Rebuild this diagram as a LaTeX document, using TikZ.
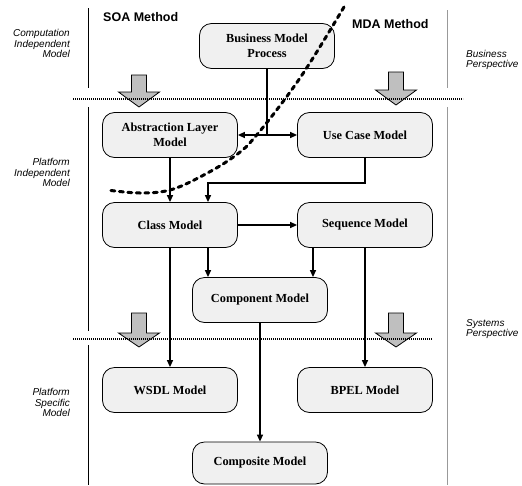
\documentclass[tikz,border=0pt]{standalone}
\usepackage{fontspec}
\setmainfont{Liberation Serif}
\newfontfamily\arialf{Liberation Sans}
\usetikzlibrary{arrows.meta}
\tikzset{
  model/.style={draw=black, line width=0.8pt, fill=black!6, rounded corners=12pt,
    minimum width=135pt, minimum height=45pt, inner sep=2pt, align=center,
    font=\fontsize{12.3pt}{14.5pt}\selectfont\bfseries},
  conn/.style={line width=1.4pt, -{Triangle[length=7pt,width=6pt]}},
  plainconn/.style={line width=1.4pt},
  sidelabel/.style={inner sep=0pt, font=\arialf\itshape\fontsize{10pt}{10.5pt}\selectfont},
  header/.style={inner sep=0pt, font=\arialf\bfseries\fontsize{12.5pt}{14pt}\selectfont},
  blockarrow/.style={draw=black, line width=0.8pt, fill=black!25},
  boundary/.style={line width=1.6pt, dash pattern=on 1.2pt off 0.8pt},
  perspline/.style={line width=0.9pt, draw=black!40},
  methodline/.style={line width=1pt, draw=black},
  split/.style={line width=3pt, dash pattern=on 4pt off 4.5pt, line cap=round}
}
\newcommand\blockarr[4]{%
  \filldraw[blockarrow] ({#1-7.5},#2) -- ({#1+7.5},#2) -- ({#1+7.5},#3) -- ({#1+20.5},#3)
    -- (#1,#4) -- ({#1-20.5},#3) -- ({#1-7.5},#3) -- cycle;}
\begin{document}
\begin{tikzpicture}[x=1pt,y=-1pt]
\useasboundingbox (0,0) rectangle (522,485);

% separator lines
\draw[methodline] (88,8) -- (88,88);
\draw[methodline] (88,107) -- (88,331);
\draw[methodline] (88,345) -- (88,485);
\draw[perspline] (447,10) -- (447,88);
\draw[perspline] (447,107) -- (447,485);

% headers
\node[header, anchor=west] (soa) at (103,17.5) {SOA Method};
\node[header, anchor=west] (mda) at (352,24) {MDA Method};

% side labels
\node[sidelabel, anchor=east, align=right] (cim) at (70,43.5) {Computation\\Independent\\Model};
\node[sidelabel, anchor=east, align=right] (pim) at (70,172.5) {Platform\\Independent\\Model};
\node[sidelabel, anchor=east, align=right] (psm) at (70,402.5) {Platform\\Specific\\Model};
\node[sidelabel, anchor=west, align=left] (bp) at (466,60) {Business\\Perspective};
\node[sidelabel, anchor=west, align=left] (sp) at (466,329) {Systems\\Perspective};

% block arrows
\blockarr{139}{75}{92}{107}
\blockarr{396}{72}{90}{105}
\blockarr{139}{313}{333}{347}
\blockarr{396}{313}{333}{347}

% boundary lines
\draw[boundary] (73,99) -- (463,99);
\draw[boundary] (73,339) -- (432,339);

% model nodes
\node[model] (bmp) at (267,46) {Business Model\\Process};
\node[model] (alm) at (170,135) {Abstraction Layer\\Model};
\node[model] (ucm) at (365,135) {Use Case Model};
\node[model] (cm) at (170,225) {Class Model};
\node[model] (sm) at (365,225) {Sequence Model};
\node[model] (comp) at (260,300) {Component Model};
\node[model] (wsdl) at (170,390) {WSDL Model};
\node[model] (bpel) at (365,390) {BPEL Model};
\node[model, minimum height=42pt] (compo) at (260,463) {Composite Model};

% connectors
\coordinate (j) at (bmp.south |- alm.east);
\draw[plainconn] (bmp.south) -- (j);
\draw[conn] (j) -- (alm.east);
\draw[conn] (j) -- (ucm.west);
\draw[conn] (alm.south) -- (cm.north);
\coordinate (cmr) at ([xshift=38pt]cm.north);
\coordinate (bend) at (ucm.south |- 0,183);
\draw[conn] (ucm.south) -- (bend) -| (cmr);
\draw[conn] (cm.east) -- (sm.west);
\coordinate (cmb) at ([xshift=38pt]cm.south);
\draw[conn] (cmb) -- (cmb |- comp.north);
\coordinate (smb) at ([xshift=-52pt]sm.south);
\draw[conn] (smb) -- (smb |- comp.north);
\draw[conn] (cm.south) -- (wsdl.north);
\draw[conn] (sm.south) -- (bpel.north);
\draw[conn] (comp.south) -- (compo.north);

% SOA / MDA split
\draw[split] plot[smooth, tension=0.6] coordinates
  {(344,7) (300,78) (255,137) (232,158) (200,177) (170,190) (140,193) (107,190)};
\end{tikzpicture}
\end{document}
